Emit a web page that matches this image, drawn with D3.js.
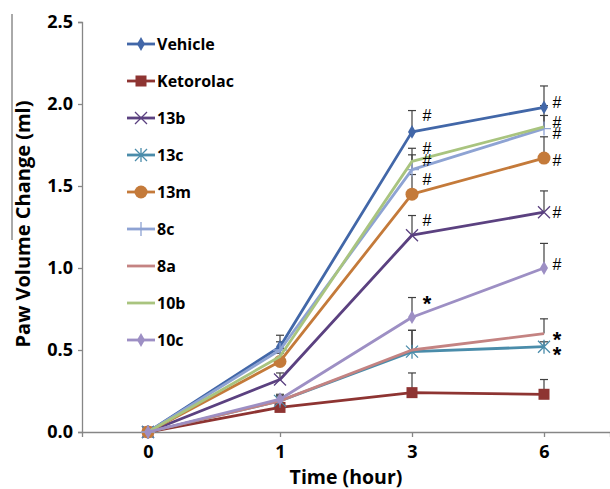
<!DOCTYPE html>
<html><head><meta charset="utf-8">
<script src="https://cdn.jsdelivr.net/npm/d3@7/dist/d3.min.js"></script>
<style>
html,body{margin:0;padding:0;background:#fff;}
svg{display:block;font-family:"Open Sans",sans-serif;}
</style></head>
<body><svg id="chart" width="610" height="489"></svg>
<script>
// ---- data ----
const times = ["0", "1", "3", "6"];
const seriesNames = ["Vehicle", "Ketorolac", "13b", "13c", "13m", "8c", "8a", "10b", "10c"];
const vehicle   = [0, 0.52, 1.83, 1.98];
const ketorolac = [0, 0.15, 0.24, 0.23];
const s13b      = [0, 0.32, 1.20, 1.34];
const s13c      = [0, 0.19, 0.49, 0.52];
const s13m      = [0, 0.43, 1.45, 1.67];
const s8c       = [0, 0.50, 1.60, 1.85];
const s8a       = [0, 0.19, 0.50, 0.60];
const s10b      = [0, 0.46, 1.65, 1.86];
const s10c      = [0, 0.20, 0.70, 1.00];
const errVehicle   = [0, 0.07, 0.13, 0.13];
const errKetorolac = [0, 0.03, 0.12, 0.09];
const err13b       = [0, 0.04, 0.12, 0.13];
const err13c       = [0, 0.03, 0.13, 0.03];
const err13m       = [0, 0.05, 0.12, 0.13];
const err8c        = [0, 0.05, 0.09, 0.08];
const err8a        = [0, 0.03, 0.12, 0.09];
const err10b       = [0, 0.05, 0.08, 0.13];
const err10c       = [0, 0.03, 0.12, 0.15];
const yTicks = [0, 0.5, 1.0, 1.5, 2.0, 2.5];
// significance marks: time, value level of the mark, symbol
const marks = [
  ["3", 1.93, "#"], ["3", 1.73, "#"], ["3", 1.66, "#"], ["3", 1.54, "#"], ["3", 1.29, "#"], ["3", 0.82, "*"],
  ["6", 2.01, "#"], ["6", 1.89, "#"], ["6", 1.82, "#"], ["6", 1.66, "#"], ["6", 1.34, "#"], ["6", 1.02, "#"],
  ["6", 0.60, "*"], ["6", 0.51, "*"]
];

const values = [vehicle, ketorolac, s13b, s13c, s13m, s8c, s8a, s10b, s10c];
const errors = [errVehicle, errKetorolac, err13b, err13c, err13m, err8c, err8a, err10b, err10c];
const colors = ["#4267a8", "#8e3432", "#5b4180", "#4a8caa", "#c47a3a", "#8ea3d3", "#c48382", "#a9c47f", "#9d8fc4"];
const markerTypes = ["diamond", "square", "x", "star", "circle", "plus", "none", "none", "diamond"];

const series = seriesNames.map((n, i) => ({name: n, vals: values[i], err: errors[i], color: colors[i], marker: markerTypes[i]}));

// ---- layout ----
const svg = d3.select("#chart");
const x = d3.scalePoint().domain(times).range([82, 610]).padding(0.5);
const y = d3.scaleLinear().domain([0, 2.5]).range([432, 22]);
const axisColor = "#868686";

// Y axis
const yAx = svg.append("g").attr("transform", "translate(82,0)")
  .call(d3.axisLeft(y).tickValues(yTicks).tickFormat(d3.format(".1f")).tickSize(4).tickPadding(5));
yAx.select(".domain").attr("stroke", axisColor).attr("stroke-width", 1.3);
yAx.selectAll(".tick line").attr("stroke", axisColor).attr("stroke-width", 1.3);
yAx.selectAll("text").attr("fill", "#000").style("font-size", "18px").style("font-weight", "700")
  .style("font-family", "'Open Sans',sans-serif");

// X axis
const xAx = svg.append("g").attr("transform", "translate(0,432)")
  .call(d3.axisBottom(x).tickSizeOuter(0).tickSize(5).tickPadding(8));
xAx.select(".domain").attr("stroke", axisColor).attr("stroke-width", 1.3);
xAx.selectAll(".tick line").attr("stroke", axisColor).attr("stroke-width", 1.3);
xAx.selectAll("text").attr("fill", "#000").style("font-size", "18px").style("font-weight", "700")
  .style("font-family", "'Open Sans',sans-serif");

// titles
svg.append("text").attr("x", 346).attr("y", 484).attr("text-anchor", "middle")
  .style("font-size", "19.5px").style("font-weight", "700").text("Time (hour)");
svg.append("text").attr("transform", "translate(30,224) rotate(-90)").attr("text-anchor", "middle")
  .style("font-size", "20px").style("font-weight", "700").text("Paw Volume Change (ml)");
svg.append("line").attr("x1", 12).attr("x2", 12).attr("y1", 14).attr("y2", 240)
  .attr("stroke", "#555").attr("stroke-width", 1);

function drawMarker(g, type, color, cx, cy) {
  if (type === "diamond") {
    g.append("path").attr("d", d3.symbol(d3.symbolDiamond, 55)()).attr("transform", `translate(${cx},${cy})`).attr("fill", color);
  } else if (type === "square") {
    g.append("rect").attr("x", cx - 5.5).attr("y", cy - 5.5).attr("width", 11).attr("height", 11).attr("fill", color);
  } else if (type === "circle") {
    g.append("circle").attr("cx", cx).attr("cy", cy).attr("r", 6.5).attr("fill", color);
  } else if (type === "x") {
    g.append("path").attr("d", `M${cx-6},${cy-6}L${cx+6},${cy+6}M${cx-6},${cy+6}L${cx+6},${cy-6}`)
      .attr("stroke", color).attr("stroke-width", 1.3).attr("fill", "none");
  } else if (type === "star") {
    g.append("path").attr("d", `M${cx-6},${cy-6}L${cx+6},${cy+6}M${cx-6},${cy+6}L${cx+6},${cy-6}M${cx},${cy-7}L${cx},${cy+7}`)
      .attr("stroke", color).attr("stroke-width", 1.3).attr("fill", "none");
  } else if (type === "plus") {
    g.append("path").attr("d", `M${cx},${cy-7}L${cx},${cy+7}M${cx-7},${cy}L${cx+7},${cy}`)
      .attr("stroke", color).attr("stroke-width", 1.3).attr("fill", "none");
  }
}

// error bars
const eg = svg.append("g");
series.forEach(s => {
  s.vals.forEach((v, i) => {
    if (!s.err[i]) return;
    const cx = x(times[i]);
    eg.append("line").attr("x1", cx).attr("x2", cx).attr("y1", y(v)).attr("y2", y(v + s.err[i]))
      .attr("stroke", "#404040").attr("stroke-width", 1.2);
    eg.append("line").attr("x1", cx - 4).attr("x2", cx + 4).attr("y1", y(v + s.err[i])).attr("y2", y(v + s.err[i]))
      .attr("stroke", "#404040").attr("stroke-width", 1.2);
  });
});

// lines + markers
const line = d3.line().x((d, i) => x(times[i])).y(d => y(d));
series.forEach(s => {
  const g = svg.append("g");
  g.append("path").datum(s.vals).attr("d", line).attr("fill", "none")
    .attr("stroke", s.color).attr("stroke-width", 2.8).attr("stroke-linejoin", "round");
  s.vals.forEach((v, i) => drawMarker(g, s.marker, s.color, x(times[i]), y(v)));
});

// significance marks
svg.append("g").selectAll("text").data(marks).join("text")
  .attr("x", d => x(d[0]) + (d[0] === "3" ? 15 : 13))
  .attr("y", d => y(d[1]))
  .attr("dy", d => d[2] === "#" ? "0.36em" : "0.62em")
  .attr("text-anchor", "middle")
  .style("font-family", "'Liberation Sans',Arial,sans-serif")
  .style("font-size", d => d[2] === "#" ? "16px" : "22px")
  .style("font-weight", d => d[2] === "#" ? "400" : "700")
  .text(d => d[2]);

// legend
const lg = svg.append("g");
series.forEach((s, i) => {
  const ly = 44 + i * 37;
  lg.append("line").attr("x1", 127).attr("x2", 155).attr("y1", ly).attr("y2", ly)
    .attr("stroke", s.color).attr("stroke-width", 2.8);
  drawMarker(lg, s.marker, s.color, 141, ly);
  lg.append("text").attr("x", 157).attr("y", ly).attr("dy", "0.36em")
    .style("font-size", "16px").style("font-weight", "700").text(s.name);
});
</script></body></html>
